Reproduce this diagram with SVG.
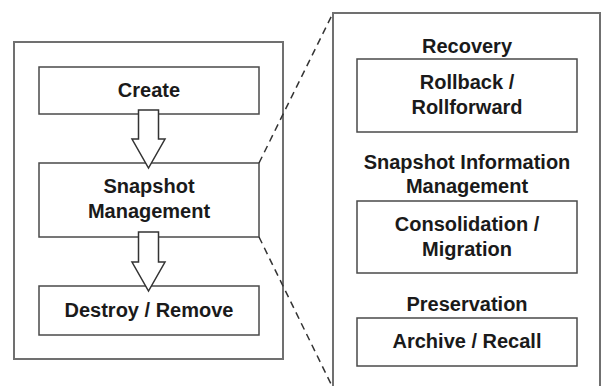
<svg xmlns="http://www.w3.org/2000/svg" width="602" height="386" viewBox="0 0 602 386">
  <style>
    .frame { fill: none; stroke: #707070; stroke-width: 2; }
    .box { fill: #ffffff; stroke: #4a4a4a; stroke-width: 1.5; }
    .arrow { fill: #ffffff; stroke: #333333; stroke-width: 1.5; stroke-linejoin: miter; }
    .zoom { fill: none; stroke: #333333; stroke-width: 1.5; stroke-dasharray: 7 5; }
    text { font-family: "Liberation Sans", Arial, sans-serif; font-weight: bold; font-size: 20px; fill: #1a1a1a; text-anchor: middle; }
  </style>
  <rect x="0" y="0" width="602" height="386" fill="#ffffff"/>

  <!-- lifecycle frame on the left -->
  <rect id="lifecycle-frame" class="frame" x="14" y="42" width="269" height="317"/>

  <!-- detail frame on the right, running off the bottom edge -->
  <path id="detail-frame" class="frame" d="M333,392 V13 H600 V392"/>

  <g id="create">
    <rect class="box" x="39" y="67" width="220" height="47"/>
    <text x="149" y="97">Create</text>
  </g>

  <g id="snapshot-management">
    <rect class="box" x="39" y="163" width="220" height="74"/>
    <text x="149" y="193">Snapshot</text>
    <text x="149" y="218">Management</text>
  </g>

  <g id="destroy-remove">
    <rect class="box" x="39" y="286" width="220" height="49"/>
    <text x="149" y="317">Destroy / Remove</text>
  </g>

  <g id="recovery">
    <text x="467" y="53">Recovery</text>
  </g>

  <g id="rollback-rollforward">
    <rect class="box" x="357" y="59" width="220" height="73"/>
    <text x="467" y="89">Rollback /</text>
    <text x="467" y="114">Rollforward</text>
  </g>

  <g id="snapshot-information-management">
    <text x="467" y="169">Snapshot Information</text>
    <text x="467" y="193">Management</text>
  </g>

  <g id="consolidation-migration">
    <rect class="box" x="357" y="201" width="220" height="72"/>
    <text x="467" y="231">Consolidation /</text>
    <text x="467" y="256">Migration</text>
  </g>

  <g id="preservation">
    <text x="467" y="311">Preservation</text>
  </g>

  <g id="archive-recall">
    <rect class="box" x="357" y="318" width="220" height="48"/>
    <text x="467" y="348">Archive / Recall</text>
  </g>

  <g id="connectors">
    <!-- block arrows between lifecycle stages -->
    <path class="arrow" d="M138.5,110 H158.5 V139 H165 L148.5,168 L132,139 H138.5 Z"/>
    <path class="arrow" d="M138.5,232 H158.5 V262 H165 L148.5,291 L132,262 H138.5 Z"/>
    <!-- dashed lines expanding Snapshot Management into the detail frame -->
    <line class="zoom" x1="259" y1="163" x2="333" y2="13"/>
    <line class="zoom" x1="259" y1="237" x2="332" y2="386"/>
  </g>
</svg>
